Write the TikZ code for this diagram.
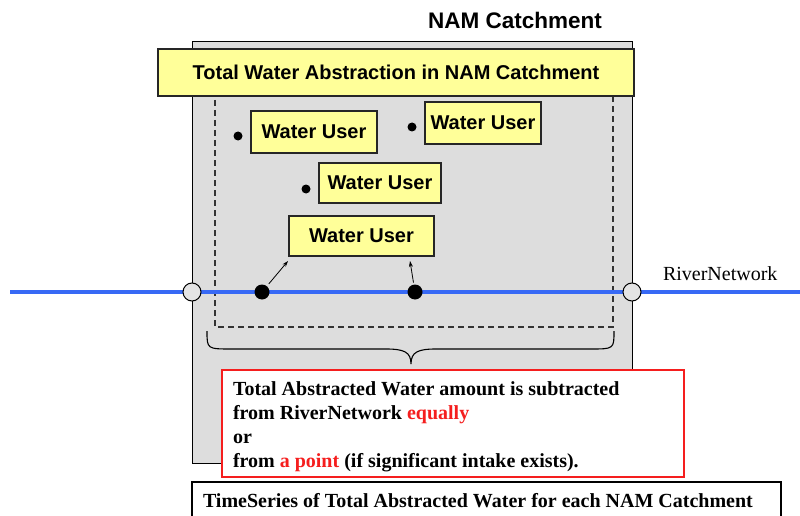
\documentclass[tikz,border=0pt]{standalone}
\usepackage{fontspec}
\setmainfont{Liberation Serif}
\newfontfamily\headfont{Liberation Sans}
\usetikzlibrary{arrows.meta}

\definecolor{catchgrey}{RGB}{221,221,221}
\definecolor{userfill}{RGB}{255,255,153}
\definecolor{riverblue}{RGB}{55,105,245}
\definecolor{notered}{RGB}{245,30,30}
\definecolor{nodegrey}{RGB}{228,228,228}

\tikzset{
  every node/.style={inner sep=0pt, outer sep=0pt},
  sanslabel/.style={font=\headfont\bfseries\fontsize{20}{24}\selectfont},
  seriflabel/.style={font=\bfseries\fontsize{20}{24}\selectfont},
  userbox/.style={draw=black!85, line width=1.1pt, fill=userfill, sanslabel},
  userdot/.style={circle, fill=black, minimum size=9pt},
  intake/.style={circle, fill=black, minimum size=15pt},
  boundary/.style={circle, draw=black, line width=1pt, fill=nodegrey, minimum size=18pt},
  pointer/.style={-{Stealth[length=6pt,width=4pt]}, line width=0.8pt},
}

\begin{document}
\begin{tikzpicture}[x=1pt,y=-1pt]
  \useasboundingbox (0,0) rectangle (800,516);
  \clip (0,0) rectangle (800,516);

  % catchment area
  \node[draw=black, line width=1pt, fill=catchgrey, minimum width=440pt, minimum height=421pt]
    (catch) at (412,252.5) {};
  \node[font=\headfont\bfseries\fontsize{22.5}{27}\selectfont, anchor=base] (catchtitle) at (515,28.5) {NAM Catchment};

  % abstraction zone
  \draw[dashed, dash pattern=on 6pt off 4pt, line width=1.1pt, draw=black!80]
    (215,90) rectangle (613,327);

  % heading bar
  \node[userbox, minimum width=476pt, minimum height=47pt] (heading) at (396,72.5)
    {Total Water Abstraction in NAM Catchment};

  % water users
  \node[userbox, minimum width=126pt, minimum height=42pt] (wu1) at (314,132) {Water User};
  \node[userbox, minimum width=116pt, minimum height=42pt] (wu2) at (483,123) {Water User};
  \node[userbox, minimum width=122pt, minimum height=40pt] (wu3) at (380,183) {Water User};
  \node[userbox, minimum width=145pt, minimum height=40pt] (wu4) at (361.5,236) {Water User};
  \node[userdot] (p1) at (238,136) {};
  \node[userdot] (p2) at (412,127) {};
  \node[userdot] (p3) at (306,189) {};

  % river network
  \coordinate (riverW) at (10,292);
  \coordinate (riverE) at (800,292);
  \draw[riverblue, line width=4.2pt] (riverW) -- (riverE);
  \node[boundary] (bin) at (192,292) {};
  \node[boundary] (bout) at (632,292) {};
  \node[intake] (in1) at (262,292) {};
  \node[intake] (in2) at (415,292) {};
  \node[font=\fontsize{20}{24}\selectfont, anchor=base west] (rivername) at (663,280) {RiverNetwork};

  % intakes feeding the users
  \coordinate (t1) at (288,261);
  \coordinate (t2) at (410,261);
  \draw[pointer, shorten <=3pt] (in1) -- (t1);
  \draw[pointer, shorten <=2pt] (in2) -- (t2);

  % brace under the abstraction zone
  \draw[line width=1.1pt] (207,331) .. controls (207,349) .. (232,349) -- (386,349)
    .. controls (404,349) and (411,352) .. (411,364)
    .. controls (411,352) and (418,349) .. (436,349) -- (590,349)
    .. controls (614,349) .. (614,331);

  % explanation note
  \node[draw=notered, line width=1.4pt, fill=white, minimum width=462pt, minimum height=107pt]
    (note) at (453,423.5) {};
  \node[seriflabel, anchor=base west] (n1) at (233,395) {Total Abstracted Water amount is subtracted};
  \node[seriflabel, anchor=base west] (n2) at (233,419) {from RiverNetwork \textcolor{notered}{equally}};
  \node[seriflabel, anchor=base west] (n3) at (233,443) {or};
  \node[seriflabel, anchor=base west] (n4) at (233,467) {from \textcolor{notered}{a point} (if significant intake exists).};

  % output time series
  \node[draw=black, line width=1.5pt, fill=white, minimum width=589pt, minimum height=60pt,
    anchor=north west] (series) at (192,482) {};
  \node[seriflabel, anchor=base west] (seriestext) at (203,507)
    {TimeSeries of Total Abstracted Water for each NAM Catchment};
\end{tikzpicture}
\end{document}
